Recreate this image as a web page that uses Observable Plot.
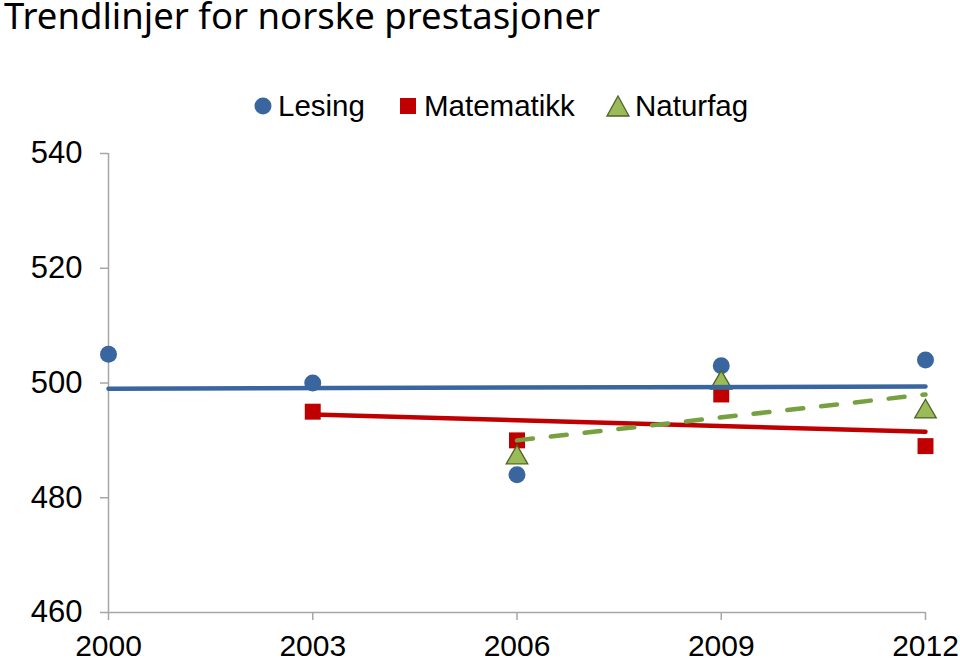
<!DOCTYPE html>
<html>
<head>
<meta charset="utf-8">
<script src="https://cdn.jsdelivr.net/npm/d3@7"></script>
<script src="https://cdn.jsdelivr.net/npm/@observablehq/plot@0.6"></script>
<style>
  body { margin: 0; background: #fff; width: 960px; height: 660px; overflow: hidden; position: relative; }
  #title { position: absolute; left: 4px; top: -8px; font-family: "Noto Sans", "Open Sans", sans-serif; font-size: 36.5px; line-height: 46px; color: #000; white-space: nowrap; }
  #chart { position: absolute; left: 0; top: 40px; }
  .leg { position: absolute; top: 88px; height: 36px; display: flex; align-items: center; font-family: "Liberation Sans", Arial, sans-serif; font-size: 29.5px; color: #000; white-space: nowrap; }
  .leg svg { margin-right: 6px; }
</style>
</head>
<body>
<div id="title">Trendlinjer for norske prestasjoner</div>
<div id="chart"></div>
<div class="leg" style="left:254px"><svg width="18" height="18"><circle cx="9" cy="9" r="8.5" fill="#3A66A0"/></svg>Lesing</div>
<div class="leg" style="left:400px"><svg width="18" height="18"><rect x="0" y="1" width="16" height="16" fill="#C00000"/></svg>Matematikk</div>
<div class="leg" style="left:606px"><svg width="25" height="22" style="margin-right:4px"><polygon points="12,1 23,21 1,21" fill="#9BBB59" stroke="#4F6228" stroke-width="1.3"/></svg>Naturfag</div>
<script>
const years = [2000, 2003, 2006, 2009, 2012];
const lesing = [505, 500, 484, 503, 504];
const matematikk = [null, 495, 490, 498, 489];
const naturfag = [null, null, 487, 500, 495];
const xTicks = [2000, 2003, 2006, 2009, 2012];
const yTicks = [460, 480, 500, 520, 540];

const rows = (vals) => years.map((x, i) => ({x, y: vals[i]})).filter(d => d.y != null);
const lesRows = rows(lesing);
const matRows = rows(matematikk);
const natRows = rows(naturfag);

const axisGray = "#A6A6A6";

const plot = Plot.plot({
  width: 960,
  height: 620,
  marginTop: 113,
  marginBottom: 48,
  marginLeft: 108,
  marginRight: 35,
  style: { fontFamily: "Liberation Sans, Arial, sans-serif", background: "white" },
  x: { domain: [2000, 2012] },
  y: { domain: [460, 540] },
  marks: [
    Plot.ruleX([2000], { y1: 460, y2: 540, stroke: axisGray, strokeWidth: 1.5 }),
    Plot.ruleY([460], { x1: 2000, x2: 2012, stroke: axisGray, strokeWidth: 1.5 }),
    Plot.axisY({ ticks: yTicks, tickSize: 8, tickPadding: 18, fontSize: 31, stroke: axisGray, strokeWidth: 1.5, fill: "#000", label: null }),
    Plot.axisX({ ticks: xTicks, tickSize: 8, tickPadding: 14, fontSize: 30, stroke: axisGray, strokeWidth: 1.5, fill: "#000", label: null, tickFormat: d => String(d) }),
    Plot.dot(lesRows, { x: "x", y: "y", symbol: "circle", r: 8.5, fill: "#3A66A0" }),
    Plot.dot(matRows, { x: "x", y: "y", symbol: "square", r: 9, fill: "#C00000" }),
    Plot.dot(natRows, { x: "x", y: "y", symbol: "triangle", r: 8, fill: "#9BBB59", stroke: "#4F6228", strokeWidth: 1.3 }),
    Plot.linearRegressionY(lesRows, { x: "x", y: "y", stroke: "#3A66A0", strokeWidth: 4.5, ci: 0 }),
    Plot.linearRegressionY(matRows, { x: "x", y: "y", stroke: "#C00000", strokeWidth: 4.5, ci: 0 }),
    Plot.linearRegressionY(natRows, { x: "x", y: "y", stroke: "#77A040", strokeWidth: 4.5, ci: 0, strokeDasharray: "16,18", strokeLinecap: "round" })
  ]
});
document.getElementById("chart").appendChild(plot);
</script>
</body>
</html>
